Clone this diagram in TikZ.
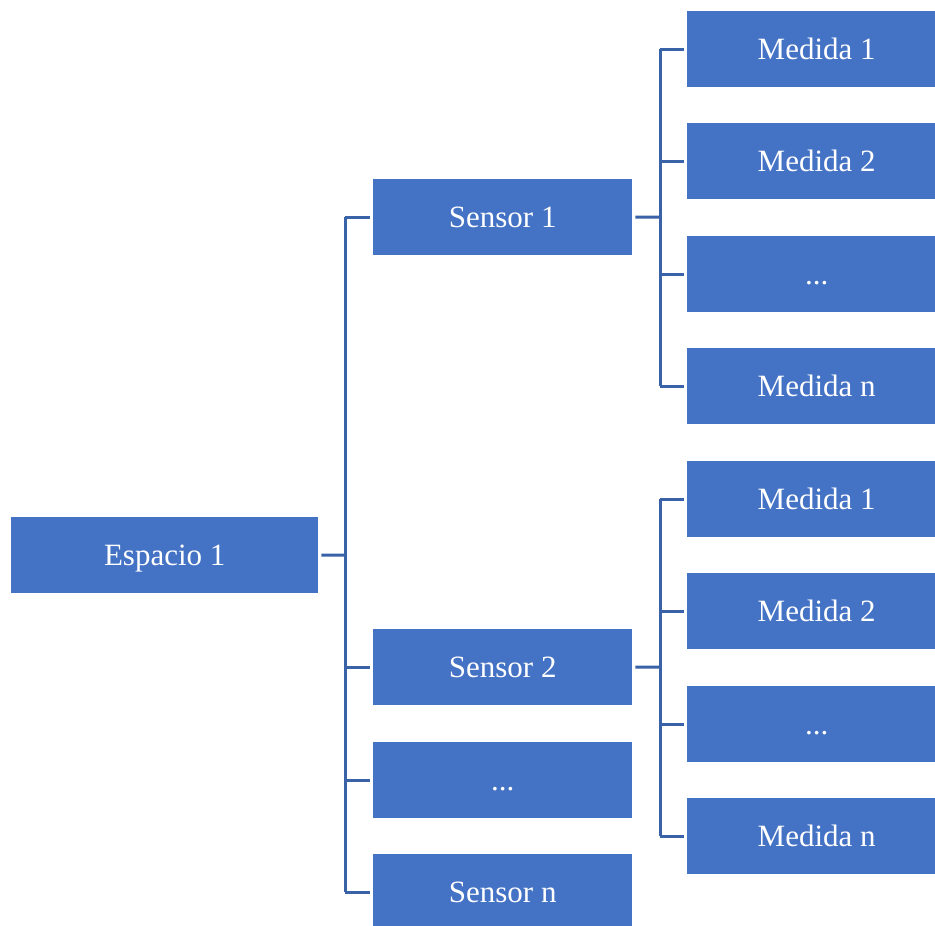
\documentclass[tikz,border=0pt]{standalone}
\usepackage{fontspec}
\setmainfont{Liberation Serif}
\definecolor{boxblue}{HTML}{4472C4}
\definecolor{lineblue}{HTML}{3A62A8}
\begin{document}
\begin{tikzpicture}[x=1pt,y=-1pt,
  bx/.style={fill=boxblue,draw=none,text=white,font=\fontsize{31}{34}\selectfont,inner sep=0pt,anchor=north west,text height=24pt,text depth=4pt},
  conn/.style={draw=lineblue,line width=3pt}]
\useasboundingbox (0,0) rectangle (935,926);
% boxes
\node[bx,minimum width=307pt,minimum height=76pt] (esp) at (11,517) {Espacio 1};
\node[bx,minimum width=259pt,minimum height=76pt] (s1) at (373,179) {Sensor 1};
\node[bx,minimum width=259pt,minimum height=76pt] (s2) at (373,629) {Sensor 2};
\node[bx,minimum width=259pt,minimum height=76pt] (sd) at (373,742) {...};
\node[bx,minimum width=259pt,minimum height=76pt] (sn) at (373,854) {Sensor n};
\node[bx,minimum width=259pt,minimum height=76pt] (m11) at (687,11) {Medida 1};
\node[bx,minimum width=259pt,minimum height=76pt] (m12) at (687,123) {Medida 2};
\node[bx,minimum width=259pt,minimum height=76pt] (m1d) at (687,236) {...};
\node[bx,minimum width=259pt,minimum height=76pt] (m1n) at (687,348) {Medida n};
\node[bx,minimum width=259pt,minimum height=76pt] (m21) at (687,461) {Medida 1};
\node[bx,minimum width=259pt,minimum height=76pt] (m22) at (687,573) {Medida 2};
\node[bx,minimum width=259pt,minimum height=76pt] (m2d) at (687,686) {...};
\node[bx,minimum width=259pt,minimum height=76pt] (m2n) at (687,798) {Medida n};
% trunk coordinates
\coordinate (t0) at (345,555);
\coordinate (t1) at (660,217);
\coordinate (t2) at (660,667);
% Espacio -> sensors
\draw[conn] ([xshift=3pt]esp.east) -- (t0);
\draw[conn] (t0 |- s1.west) -- (t0 |- sn.west);
\foreach \n in {s1,s2,sd,sn} \draw[conn] (t0 |- \n.west) -- ([xshift=-3pt]\n.west);
% Sensor 1 -> medidas
\draw[conn] ([xshift=3pt]s1.east) -- (t1);
\draw[conn] (t1 |- m11.west) -- (t1 |- m1n.west);
\foreach \n in {m11,m12,m1d,m1n} \draw[conn] (t1 |- \n.west) -- ([xshift=-3pt]\n.west);
% Sensor 2 -> medidas
\draw[conn] ([xshift=3pt]s2.east) -- (t2);
\draw[conn] (t2 |- m21.west) -- (t2 |- m2n.west);
\foreach \n in {m21,m22,m2d,m2n} \draw[conn] (t2 |- \n.west) -- ([xshift=-3pt]\n.west);
\end{tikzpicture}
\end{document}
